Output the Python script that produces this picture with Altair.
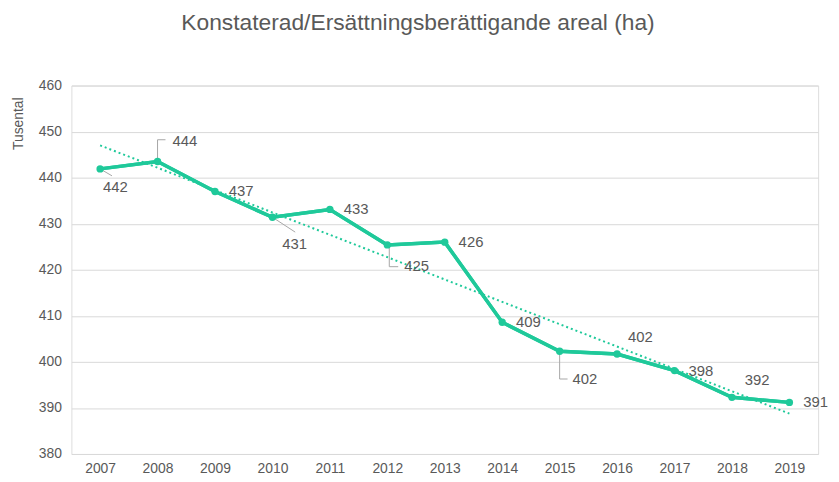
import altair as alt
import pandas as pd

years = [2007, 2008, 2009, 2010, 2011, 2012, 2013, 2014, 2015, 2016, 2017, 2018, 2019]
values = [441.9, 443.5, 437.0, 431.4, 433.1, 425.4, 426.0, 408.6, 402.3, 401.7, 398.1, 392.3, 391.2]
labels = ["442", "444", "437", "431", "433", "425", "426", "409", "402", "402", "398", "392", "391"]
y_ticks = [380, 390, 400, 410, 420, 430, 440, 450, 460]

df = pd.DataFrame({"year": years, "value": values, "label": labels})

GREEN = "#1fc99a"
GREY_TXT = "#595959"
FONT = "Liberation Sans"

# label offsets (style): year -> (dx, dy)
label_offsets = {2007: (3, 18), 2008: (15, -21), 2010: (10, 27), 2012: (17, 21),
                 2015: (13, 28), 2016: (11, -17), 2018: (13, -17)}
default_offset = (14, 0)

# leader line segments (style, pixel offsets): year -> list of (x0, y0, x1, y1)
leaders = {2007: [(0, 0, 12, 7)],
           2008: [(0, 0, 0, -22), (0, -22, 8, -22)],
           2010: [(0, 0, 23, 15)],
           2012: [(2, 0, 2, 22), (2, 22, 11, 22)],
           2015: [(0, 0, 0, 28), (0, 28, 8, 28)]}

xscale = alt.Scale(domain=[2006.5, 2019.5], nice=False, zero=False)
yscale = alt.Scale(domain=[380, 460], nice=False, zero=False)

base = alt.Chart(df)

x_enc = alt.X("year:Q", scale=xscale,
              axis=alt.Axis(values=years, format="d", title=None, grid=False, domain=False,
                            ticks=False, labelFontSize=14, labelColor=GREY_TXT, labelFont=FONT,
                            labelPadding=8))
y_enc = alt.Y("value:Q", scale=yscale,
              axis=alt.Axis(values=y_ticks, title="Tusental", grid=True, gridColor="#d9d9d9",
                            domain=False, ticks=False, labelFontSize=14, labelColor=GREY_TXT,
                            labelFont=FONT, labelPadding=10, titleFont=FONT, titleFontSize=14,
                            titleColor=GREY_TXT, titleFontWeight="normal",
                            titleX=-53, titleY=38, titleAlign="center", titleBaseline="middle",
                            titleAngle=270))

trend = base.transform_regression("year", "value").mark_line(
    color=GREEN, strokeWidth=2, strokeDash=[2, 3]).encode(x="year:Q", y="value:Q")

leader_layers = []
for yr, segs in leaders.items():
    for (x0, y0, x1, y1) in segs:
        leader_layers.append(
            base.transform_filter(alt.datum.year == yr).mark_rule(
                color="#a6a6a6", strokeWidth=1,
                xOffset=x0, yOffset=y0, x2Offset=x1, y2Offset=y1
            ).encode(x="year:Q", y="value:Q", x2="year:Q", y2="value:Q"))

line = base.mark_line(color=GREEN, strokeWidth=3.5).encode(x=x_enc, y=y_enc)
points = base.mark_point(filled=True, color=GREEN, size=55, opacity=1).encode(x="year:Q", y="value:Q")

text_layers = []
default_years = [y for y in years if y not in label_offsets]
text_layers.append(
    base.transform_filter(alt.FieldOneOfPredicate(field="year", oneOf=default_years)).mark_text(
        align="left", baseline="middle", dx=default_offset[0], dy=default_offset[1],
        fontSize=15, font=FONT, color=GREY_TXT
    ).encode(x="year:Q", y="value:Q", text="label:N"))
for yr, (dx, dy) in label_offsets.items():
    text_layers.append(
        base.transform_filter(alt.datum.year == yr).mark_text(
            align="left", baseline="middle", dx=dx, dy=dy,
            fontSize=15, font=FONT, color=GREY_TXT
        ).encode(x="year:Q", y="value:Q", text="label:N"))

chart = alt.layer(line, trend, *leader_layers, line, points, *text_layers).properties(
    width=754, height=372,
    title=alt.TitleParams("Konstaterad/Ersättningsberättigande areal (ha)", fontSize=23,
                          font=FONT, color=GREY_TXT, fontWeight="normal", anchor="middle",
                          dx=-27, offset=44),
    autosize=alt.AutoSizeParams(type="none"),
    padding={"left": 64, "top": 76, "right": 13, "bottom": 26},
).configure_view(stroke=None).configure(background="white")

chart.save("out.html", embed_options={"renderer": "svg", "actions": False})
